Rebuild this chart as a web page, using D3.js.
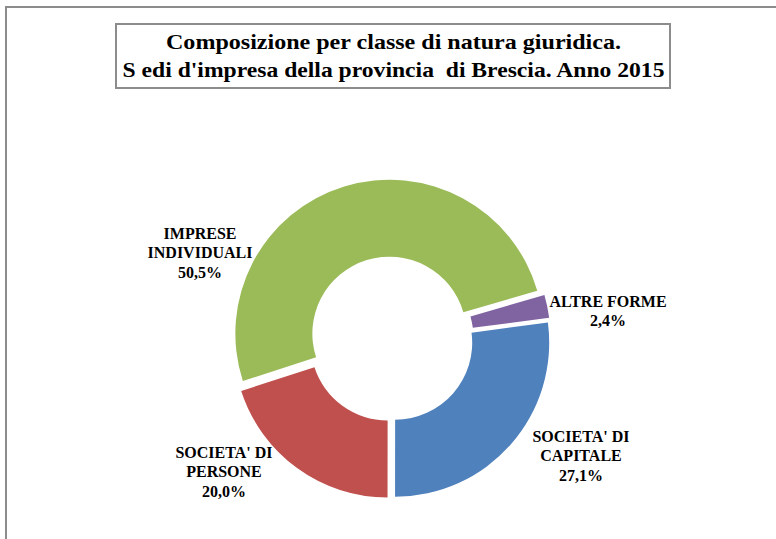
<html>
<head>
    <meta charset="UTF-8">
    <title>Composizione per classe di natura giuridica</title>
    <script src="https://d3js.org/d3.v7.min.js"></script>
    <style>
        body { margin: 0; background: #fff; }
        .title { white-space: pre; }
    </style>
</head>
<body>
<div id="chart"></div>
<script>
    // Data
    const categories = ["SOCIETA' DI CAPITALE", "SOCIETA' DI PERSONE", "IMPRESE INDIVIDUALI", "ALTRE FORME"];
    const values = [27.1, 20.0, 50.5, 2.4];
    const labelLines = [
        ["SOCIETA' DI", "CAPITALE"],
        ["SOCIETA' DI", "PERSONE"],
        ["IMPRESE", "INDIVIDUALI"],
        ["ALTRE FORME"]
    ];
    const colors = ["#4F81BD", "#C0504D", "#9BBB59", "#8064A2"];
    const titleLines = ["Composizione per classe di natura giuridica.",
                        "S edi d'impresa della provincia  di Brescia. Anno 2015"];

    // Layout
    const width = 776, height = 539;
    const cx = 391, cy = 339;
    const outerR = 154, innerR = 77;
    const explode = 5.6;
    const firstAngle = 82.5 * Math.PI / 180;
    const serif = "Liberation Serif, Tinos, Times New Roman, DejaVu Serif, serif";
    // label centres (first line centre), placed by hand like the original
    const labelAnchors = [[581, 436], [224, 452], [200, 233], [608, 301]];
    const lineH = 19.5;

    const svg = d3.select("#chart").append("svg")
        .attr("width", width)
        .attr("height", height);

    // outer chart border (cut off on right / bottom)
    svg.append("path")
        .attr("d", "M6," + height + " L6,7 L" + width + ",7")
        .attr("fill", "none")
        .attr("stroke", "#8c8c8c")
        .attr("stroke-width", 2);

    // title box
    svg.append("rect")
        .attr("x", 116).attr("y", 24)
        .attr("width", 554).attr("height", 64)
        .attr("fill", "#fff")
        .attr("stroke", "#8c8c8c")
        .attr("stroke-width", 2);

    const titleLen = [455, 542];
    svg.selectAll(".title")
        .data(titleLines)
        .join("text")
        .attr("class", "title")
        .attr("x", 393.5)
        .attr("y", (d, i) => 49 + i * 27.5)
        .attr("text-anchor", "middle")
        .attr("font-family", serif)
        .attr("font-weight", "bold")
        .attr("font-size", 22)
        .attr("textLength", (d, i) => titleLen[i])
        .attr("lengthAdjust", "spacingAndGlyphs")
        .text(d => d);

    // donut
    const pie = d3.pie()
        .sort(null)
        .startAngle(firstAngle)
        .endAngle(firstAngle + 2 * Math.PI);

    const arc = d3.arc()
        .innerRadius(innerR)
        .outerRadius(outerR);

    const arcs = pie(values);

    const g = svg.append("g")
        .attr("transform", "translate(" + cx + "," + cy + ")");

    // exploded slices: shift each one outwards along its mid angle
    g.selectAll("path")
        .data(arcs)
        .join("path")
        .attr("d", arc)
        .attr("fill", (d, i) => colors[i])
        .attr("transform", d => {
            const mid = (d.startAngle + d.endAngle) / 2;
            return "translate(" + (Math.sin(mid) * explode) + "," + (-Math.cos(mid) * explode) + ")";
        });

    // data labels
    const fmt = v => d3.format(".1f")(v).replace(".", ",") + "%";
    arcs.forEach((d, i) => {
        const lines = labelLines[i].concat([fmt(values[i])]);
        const t = svg.append("text")
            .attr("text-anchor", "middle")
            .attr("font-family", serif)
            .attr("font-weight", "bold")
            .attr("font-size", 16);
        lines.forEach((s, j) => {
            t.append("tspan")
                .attr("x", labelAnchors[i][0])
                .attr("y", labelAnchors[i][1] + j * lineH)
                .attr("dy", "0.35em")
                .text(s);
        });
    });
</script>
</body>
</html>
